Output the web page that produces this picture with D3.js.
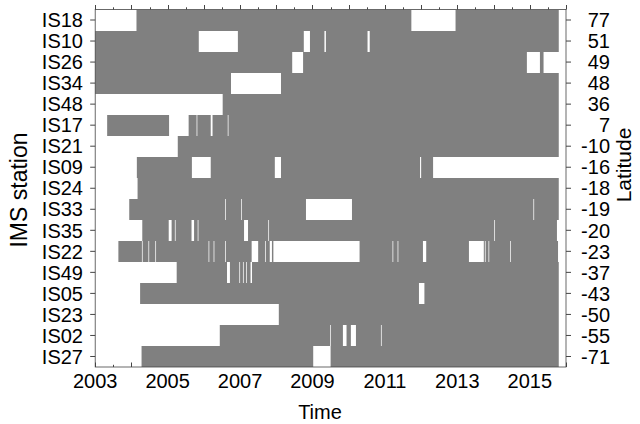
<!DOCTYPE html>
<html><head><meta charset="utf-8">
<script src="https://cdn.jsdelivr.net/npm/d3@7"></script>
<style>
html,body{margin:0;padding:0;background:#fff;}
text{font-family:"Liberation Sans",Arial,sans-serif;fill:#000;}
</style></head>
<body><svg id="chart" width="640" height="424"></svg>
<script>
const stations = ["IS18","IS10","IS26","IS34","IS48","IS17","IS21","IS09","IS24","IS33","IS35","IS22","IS49","IS05","IS23","IS02","IS27"];
const latitudes = [77,51,49,48,36,7,-10,-16,-18,-19,-20,-23,-37,-43,-50,-55,-71];
const starts = [2004.14,2003,2003,2003,2006.52,2003.33,2005.28,2004.15,2004.17,2003.94,2004.30,2003.64,2005.25,2004.24,2008.07,2006.44,2004.28];
const ends = [2015.8,2015.8,2015.38,2015.8,2015.8,2015.8,2015.8,2012.33,2015.8,2015.8,2015.75,2015.78,2015.8,2015.8,2015.8,2015.8,2015.8];
const gaps = [
  [[2011.73,2012.95]],
  [[2005.86,2006.94],[2008.76,2008.93],[2009.33,2009.37],[2010.52,2010.58]],
  [[2008.44,2008.74],[2014.92,2015.28]],
  [[2006.75,2008.13]],
  [],
  [[2005.04,2005.58],[2005.80,2005.82],[2006.19,2006.24],[2006.66,2006.68]],
  [],
  [[2005.67,2006.19],[2007.96,2008.13],[2011.97,2012.00]],
  [],
  [[2006.59,2006.61],[2007.03,2007.05],[2008.82,2010.09],[2015.10,2015.12]],
  [[2005.03,2005.11],[2005.20,2005.22],[2005.66,2005.73],[2005.83,2005.85],[2007.11,2007.22],[2007.78,2007.80],[2014.02,2014.04]],
  [[2004.29,2004.31],[2004.47,2004.49],[2004.66,2004.68],[2006.13,2006.15],[2006.27,2006.29],[2006.59,2006.61],[2007.32,2007.50],[2007.69,2007.71],[2007.82,2007.88],[2007.92,2010.30],[2011.21,2011.23],[2011.35,2011.37],[2012.05,2012.14],[2013.32,2013.73],[2013.76,2013.78],[2013.86,2013.88],[2014.46,2014.48]],
  [[2006.64,2006.72],[2006.98,2007.00],[2007.08,2007.10],[2007.17,2007.19],[2007.29,2007.33]],
  [[2011.94,2012.09]],
  [],
  [[2009.49,2009.51],[2009.84,2009.94],[2010.06,2010.20],[2010.89,2010.91]],
  [[2009.02,2009.50]]
];
const yearTicks = d3.range(2003, 2017);
const yearLabels = [2003,2005,2007,2009,2011,2013,2015];
const halfTicks = d3.range(2003.5, 2016, 1);

const svg = d3.select("#chart");
const L = 95.2, R = 566, T = 9.5, B = 367;
const x = d3.scaleLinear().domain([2003, 2016]).range([L, R]);
const y = d3.scaleBand().domain(stations).range([T, B]).padding(0);
const rowTop = s => Math.round(y(s));
const rowH = s => Math.round(y(s) + y.bandwidth()) - Math.round(y(s));

const axisCol = "#444";
// ticks beneath bars
const tk = svg.append("g").attr("stroke", axisCol).attr("stroke-width", 1);
yearTicks.forEach(v => {
  const px = Math.round(x(v)) + 0.5;
  tk.append("line").attr("x1", px).attr("x2", px).attr("y1", B).attr("y2", B - 4.5);
  tk.append("line").attr("x1", px).attr("x2", px).attr("y1", T).attr("y2", T - 4.5);
});
halfTicks.forEach(v => {
  const px = Math.round(x(v)) + 0.5;
  tk.append("line").attr("x1", px).attr("x2", px).attr("y1", B).attr("y2", B - 2.2);
  tk.append("line").attr("x1", px).attr("x2", px).attr("y1", T).attr("y2", T - 2.2);
});
stations.forEach(s => {
  const py = y(s) + y.bandwidth() / 2;
  tk.append("line").attr("x1", L).attr("x2", L - 5).attr("y1", py).attr("y2", py);
  tk.append("line").attr("x1", R).attr("x2", R + 5).attr("y1", py).attr("y2", py);
});

// full availability bars, then gaps in white on top
svg.append("g").selectAll("rect").data(stations).join("rect")
  .attr("x", (s, i) => x(starts[i])).attr("width", (s, i) => x(ends[i]) - x(starts[i]))
  .attr("y", s => rowTop(s)).attr("height", s => rowH(s))
  .attr("fill", "#808080");
const gapData = [];
stations.forEach((s, i) => gaps[i].forEach(g => gapData.push({s, a: g[0], b: g[1]})));
svg.append("g").selectAll("rect").data(gapData).join("rect")
  .attr("x", d => x(d.a)).attr("width", d => x(d.b) - x(d.a))
  .attr("y", d => rowTop(d.s)).attr("height", d => rowH(d.s))
  .attr("fill", "#fff");

// frame
svg.append("rect").attr("x", L).attr("y", T).attr("width", R - L).attr("height", B - T)
  .attr("fill", "none").attr("stroke", axisCol).attr("stroke-width", 0.8);

// labels
const fs = 20;
svg.append("g").selectAll("text").data(stations).join("text")
  .attr("x", 83).attr("y", s => y(s) + y.bandwidth() / 2).attr("dy", "0.36em")
  .attr("text-anchor", "end").attr("font-size", fs).text(s => s);
svg.append("g").selectAll("text").data(latitudes).join("text")
  .attr("x", 610).attr("y", (d, i) => y(stations[i]) + y.bandwidth() / 2).attr("dy", "0.36em")
  .attr("text-anchor", "end").attr("font-size", fs).text(d => d);
svg.append("g").selectAll("text").data(yearLabels).join("text")
  .attr("x", d => x(d)).attr("y", 388)
  .attr("text-anchor", "middle").attr("font-size", fs).text(d => d);

svg.append("text").attr("x", 320).attr("y", 419).attr("text-anchor", "middle")
  .attr("font-size", 20).text("Time");
svg.append("text").attr("transform", "translate(27,190) rotate(-90)").attr("text-anchor", "middle")
  .attr("font-size", 23).text("IMS station");
svg.append("text").attr("transform", "translate(631,165) rotate(-90)").attr("text-anchor", "middle")
  .attr("font-size", 21).text("Latitude");
</script></body></html>
